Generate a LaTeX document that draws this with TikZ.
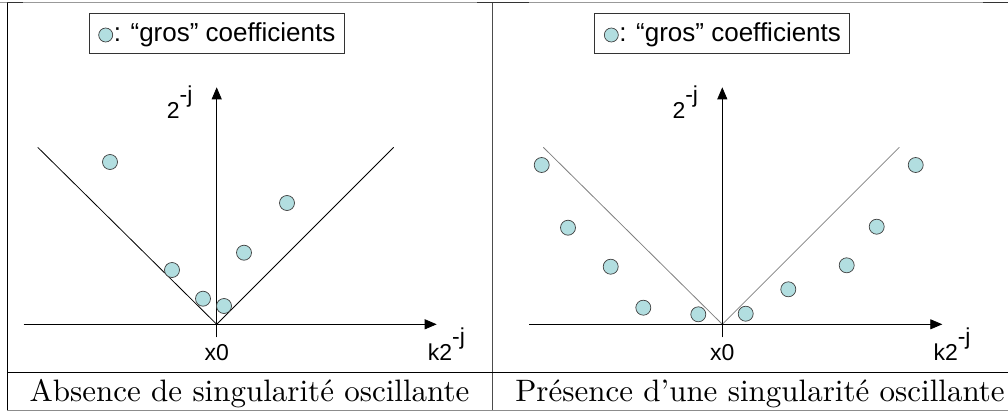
\documentclass[tikz,border=0pt]{standalone}
\usepackage{fontspec}
\newfontfamily\arialfont{Liberation Sans}
\usetikzlibrary{arrows.meta}

\definecolor{coefcol}{RGB}{178,222,224}

\tikzset{
  coef/.style={circle, draw=black!75, fill=coefcol, line width=0.7pt, minimum size=15pt, inner sep=0pt},
  axe/.style={line width=0.8pt, -{Triangle[length=12pt,width=10pt]}},
  cone/.style={line width=0.8pt},
  lab/.style={font=\arialfont\fontsize{23}{26}\selectfont, inner sep=0pt},
  legende/.style={draw=black!80, line width=0.8pt, minimum width=255pt, minimum height=40pt, inner sep=0pt},
  rule/.style={line width=1pt},
}

\newcommand{\expj}{\raisebox{0.7em}{-j}}

\begin{document}
\begin{tikzpicture}[x=1pt,y=-1pt]
\useasboundingbox (0,0) rectangle (1008,412);

% Tableau
\draw[rule, black!40] (0,2.5) -- (1008,2.5);
\draw[rule, black!80] (7,3) -- (23,3);
\draw[rule, black!80] (477,3) -- (529,3);
\draw[rule, black!80] (983,3) -- (1008,3);
\draw[rule] (7,3) -- (7,410.5);
\draw[rule, black!70] (492.7,3) -- (492.7,410.5);
\draw[rule] (7,372) -- (1008,372);
\draw[rule, black!45] (7,410.5) -- (1008,410.5);

% Les deux panneaux
\foreach \ox/\nm/\conecol in {216.7/L/black, 722.3/R/black!50} {
  \begin{scope}[shift={(\ox,324.3)}]
    \coordinate (O\nm) at (0,0);
    \coordinate (X\nm) at (220,0);
    \coordinate (Xa\nm) at (-193,0);
    \coordinate (Y\nm) at (0,-237);
    \coordinate (Yb\nm) at (0,13);
    \coordinate (Cg\nm) at (-179,-177);
    \coordinate (Cd\nm) at (177,-177);

    % cone d'influence
    \draw[cone, \conecol] (Cg\nm) -- (O\nm) -- (Cd\nm);

    % axes
    \draw[axe] (Xa\nm) -- (X\nm);
    \draw[axe] (Yb\nm) -- (Y\nm);

    \node[lab] (ylab\nm) at (-37,-222) {2\expj};
    \node[lab, anchor=base] (xo\nm) at (0,36) {x0};
    \node[lab, anchor=base west] (xlab\nm) at (211,36) {k2\expj};

    % legende
    \node[legende] (leg\nm) at (0,-291.3) {};
    \node[coef, minimum size=14pt] (legc\nm) at (-111,-289.3) {};
    \node[font=\arialfont\fontsize{26}{30}\selectfont, anchor=west, inner sep=0pt]
      (legt\nm) at ([xshift=0.5pt]legc\nm.east) {: “gros” coefficients};
  \end{scope}
}

% Coefficients, sans singularite oscillante
\foreach \x/\y [count=\i] in {110/162, 287/203, 172/270, 244/252.7, 203/298.7, 224/306}
  \node[coef] (gL\i) at (\x,\y) {};

% Coefficients, avec singularite oscillante
\foreach \x/\y [count=\i] in {541.7/165, 915.7/165, 568/227.7, 610.7/266.7, 643.3/307.7,
    698.3/314.3, 745.7/313.7, 788.3/289.3, 846.7/265.3, 876.7/226.7}
  \node[coef] (gR\i) at (\x,\y) {};

% Legendes du tableau
\node[anchor=base, inner sep=0pt] (capL) at (249.5,401) {\scalebox{3.1}{Absence de singularité oscillante}};
\node[anchor=base, inner sep=0pt] (capR) at (760,401) {\scalebox{3.1}{Présence d’une singularité oscillante}};
\end{tikzpicture}
\end{document}
